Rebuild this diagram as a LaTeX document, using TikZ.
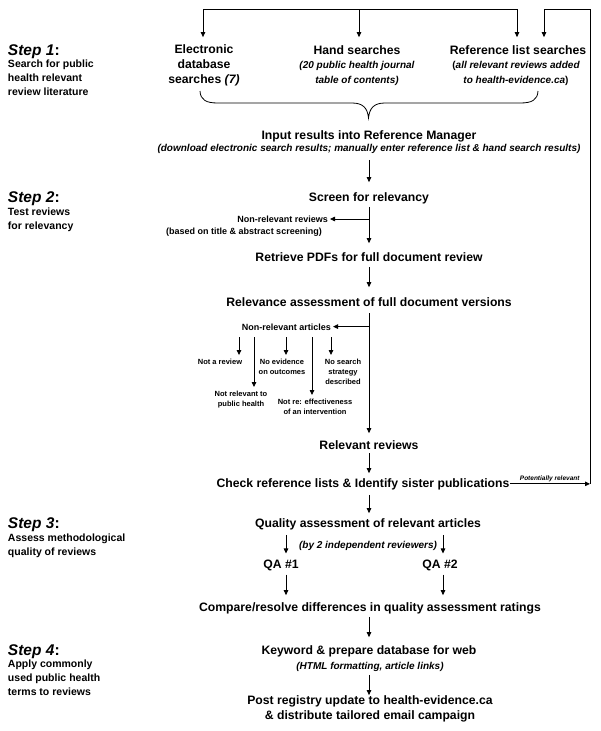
\documentclass[tikz,border=0pt]{standalone}
\usepackage{fontspec}
\setmainfont{Liberation Sans}
\usetikzlibrary{arrows.meta}
\begin{document}
\begin{tikzpicture}[x=1pt,y=-1pt,
  every node/.style={inner sep=0pt, outer sep=0pt},
  mainf/.style={font={\fontsize{12.2}{15}\selectfont\bfseries}},
  note/.style={font={\fontsize{10}{15}\selectfont\bfseries\itshape}},
  small/.style={font={\fontsize{9}{11}\selectfont\bfseries}},
  tiny/.style={font={\fontsize{7.5}{10}\selectfont\bfseries}, align=center},
  potfont/.style={font={\fontsize{6.5}{8}\selectfont\bfseries\itshape}},
  stephead/.style={font={\fontsize{15.5}{17}\selectfont\bfseries}, anchor=base west},
  stepbody/.style={font={\fontsize{10.5}{13.8}\selectfont\bfseries}, align=left, anchor=north west},
  ln/.style={line width=0.8pt},
  arr/.style={ln, -{Triangle[length=5pt,width=4.5pt]}}
]
\useasboundingbox (0,0) rectangle (600,731);

% ---------- step labels ----------
\node[stephead] (s1) at (8,55.5) {\textit{Step 1}:};
\node[stepbody] (s1t) at (8,59.8) {Search for public\\health relevant\\review literature};
\node[stephead] (s2) at (8,202.1) {\textit{Step 2}:};
\node[stepbody] (s2t) at (8,207.8) {Test reviews\\for relevancy};
\node[stephead] (s3) at (8,528.1) {\textit{Step 3}:};
\node[stepbody] (s3t) at (8,533.8) {Assess methodological\\quality of reviews};
\node[stephead] (s4) at (8,655.1) {\textit{Step 4}:};
\node[stepbody] (s4t) at (8,659.8) {Apply commonly\\used public health\\terms to reviews};

% ---------- step 1 ----------
\node[mainf, align=center, anchor=north] (elec) at (204,45.1) {Electronic\\database\\searches \textit{(7)}};
\node[mainf, anchor=base] (hand) at (357,54) {Hand searches};
\node[note, align=center, anchor=north] (handnote) at (357,61) {(20 public health journal\\table of contents)};
\node[mainf, anchor=base] (ref) at (518,54) {Reference list searches};
\node[note, align=center, anchor=north] (refnote) at (516,61) {\textup{(}all relevant reviews added\\to health-evidence.ca\textup{)}};

% brace
\draw[ln] (200,91) .. controls (200.5,100) and (206,103) .. (218,103) -- (352,103)
  .. controls (363,103) and (367.5,108) .. (368.5,118)
  .. controls (369.5,108) and (374,103) .. (385,103) -- (520,103)
  .. controls (532,103) and (537.5,100) .. (538,91);

\node[mainf, anchor=base] (input) at (369,139) {Input results into Reference Manager};
\node[note, anchor=base] (inputnote) at (369,151.3) {(download electronic search results; manually enter reference list \& hand search results)};

% ---------- step 2 ----------
\node[mainf, anchor=base] (screen) at (369,201) {Screen for relevancy};
\node[small, anchor=base east] (nonrev) at (328,222) {Non-relevant reviews};
\node[small, anchor=base] (nonrevnote) at (244,234) {(based on title \& abstract screening)};
\node[mainf, anchor=base] (retrieve) at (369,261) {Retrieve PDFs for full document review};
\node[mainf, anchor=base] (relev) at (369,306) {Relevance assessment of full document versions};
\node[small, anchor=base east] (nonart) at (331,330) {Non-relevant articles};
\node[tiny, anchor=base] (notrev) at (220,364.5) {Not a review};
\node[tiny, anchor=north] (noevid) at (282,359) {No evidence\\on outcomes};
\node[tiny, anchor=north] (nosearch) at (343,359) {No search\\strategy\\described};
\node[tiny, anchor=north] (notph) at (241,391) {Not relevant to\\public health};
\node[tiny, anchor=north] (notre) at (315,399) {Not re: effectiveness\\of an intervention};
\node[mainf, anchor=base] (relrev) at (369,449) {Relevant reviews};
\node[mainf, anchor=base] (check) at (363,487) {Check reference lists \& Identify sister publications};

% ---------- step 3 ----------
\node[mainf, anchor=base] (quality) at (368,527) {Quality assessment of relevant articles};
\node[note, anchor=base] (bynote) at (368,548.3) {(by 2 independent reviewers)};
\node[mainf, anchor=base] (qa1) at (281,568) {QA \#1};
\node[mainf, anchor=base] (qa2) at (440,568) {QA \#2};
\node[mainf, anchor=base] (compare) at (370,611) {Compare/resolve differences in quality assessment ratings};

% ---------- step 4 ----------
\node[mainf, anchor=base] (keyword) at (369,654) {Keyword \& prepare database for web};
\node[note, anchor=base] (keynote) at (370,669.3) {(HTML formatting, article links)};
\node[mainf, align=center, anchor=north] (post) at (370,696.1) {Post registry update to health-evidence.ca\\\& distribute tailored email campaign};

% ---------- coordinates ----------
\coordinate (col) at (369,0);
\coordinate (topL) at (203,9);
\coordinate (topM) at (359,9);
\coordinate (topR) at (517,9);
\coordinate (fbR) at (590,9);
\coordinate (fbL) at (544,9);
\coordinate (b1) at (369,219);
\coordinate (b2) at (369,326.6);
\coordinate (t1) at (239,337);
\coordinate (t2) at (254,337);
\coordinate (t3) at (286,337);
\coordinate (t4) at (312,337);
\coordinate (t5) at (331,337);
\coordinate (q1x) at (286,0);
\coordinate (q2x) at (443,0);

% ---------- connectors ----------
\draw[arr, line cap=rect, shorten >=8pt] (topR) -- (topL) -- (elec.north -| topL);
\draw[arr, shorten >=8pt] (topM) -- (hand.north -| topM);
\draw[arr, line cap=rect, shorten >=8pt] (topR) -- (ref.north -| topR);

\draw[arr, shorten <=6.6pt, shorten >=10pt] (inputnote.south -| col) -- (screen.north -| col);
\draw[arr, shorten <=3.4pt, shorten >=9pt] (screen.south -| col) -- (retrieve.north -| col);
\draw[arr, shorten >=2pt] (b1) -- (b1 -| nonrev.east);
\draw[arr, shorten <=6pt, shorten >=10pt] (retrieve.south -| col) -- (relev.north -| col);
\draw[arr, shorten <=7pt, shorten >=7pt] (relev.south -| col) -- (relrev.north -| col);
\draw[arr, shorten >=2pt] (b2) -- (b2 -| nonart.east);
\draw[arr, shorten >=4pt] (t1) -- (t1 |- notrev.north);
\draw[arr, shorten >=4pt] (t2) -- (t2 |- notph.north);
\draw[arr, shorten >=4pt] (t3) -- (t3 |- noevid.north);
\draw[arr, shorten >=4pt] (t4) -- (t4 |- notre.north);
\draw[arr, shorten >=4pt] (t5) -- (t5 |- nosearch.north);
\draw[arr, shorten <=4pt, shorten >=5pt] (relrev.south -| col) -- (check.north -| col);
\draw[arr, shorten <=5.4pt, shorten >=5pt] (check.south -| col) -- (quality.north -| col);
\draw[arr, shorten <=5.4pt, shorten >=6pt] (quality.south -| q1x) -- (qa1.north -| q1x);
\draw[arr, shorten <=5.4pt, shorten >=6pt] (quality.south -| q2x) -- (qa2.north -| q2x);
\draw[arr, shorten <=4.3pt, shorten >=7pt] (qa1.south -| q1x) -- (compare.north -| q1x);
\draw[arr, shorten <=4.3pt, shorten >=7pt] (qa2.south -| q2x) -- (compare.north -| q2x);
\draw[arr, shorten <=3.4pt, shorten >=8pt] (compare.south -| col) -- (keyword.north -| col);
\draw[arr, shorten <=3.6pt, shorten >=1pt] (keynote.south -| col) -- (post.north -| col);

% feedback loop
\draw[arr, shorten <=1pt] (check.east) -- (check.east -| fbR)
  node[midway, above=2.5pt, potfont] (potrel) {Potentially relevant};
\draw[arr, shorten >=8pt] (check.east -| fbR) -- (fbR) -- (fbL) -- (ref.north -| fbL);
\end{tikzpicture}
\end{document}
